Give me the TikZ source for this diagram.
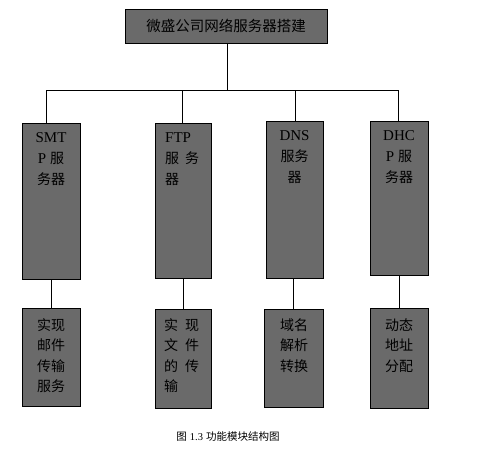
\documentclass[tikz,border=0pt]{standalone}
\usepackage{fontspec}
\setmainfont{Liberation Serif}
\newfontfamily\cjk{Noto Sans CJK SC}
\definecolor{boxgray}{HTML}{6A6A6A}
\tikzset{
  box/.style={draw=black, line width=0.9pt, fill=boxgray, inner sep=0pt},
  link/.style={draw=black, line width=0.8pt},
  btxt/.style={inner sep=0pt, font=\fontsize{15}{21}\selectfont, text=black},
  btxtb/.style={inner sep=0pt, font=\fontsize{14}{20.5}\selectfont\cjk, text=black}
}
\begin{document}
\begin{tikzpicture}[x=1pt,y=-1pt]
\useasboundingbox (0,0) rectangle (503,471);
% top box
\node[box, minimum width=202pt, minimum height=34pt] (top) at (226,26) {};
\node[inner sep=0pt, font=\fontsize{14.5}{16}\selectfont\cjk] (toptxt) at (226,26) {微盛公司网络服务器搭建};
% row 1 boxes
\node[box, minimum width=58pt, minimum height=156pt] (s1) at (51,201) {};
\node[box, minimum width=56pt, minimum height=155pt] (s2) at (183,200.5) {};
\node[box, minimum width=57pt, minimum height=157pt] (s3) at (294.5,199.5) {};
\node[box, minimum width=58pt, minimum height=154pt] (s4) at (399,198) {};
% row 2 boxes
\node[box, minimum width=58pt, minimum height=98pt] (f1) at (51,357) {};
\node[box, minimum width=56pt, minimum height=99pt] (f2) at (183,358.5) {};
\node[box, minimum width=59pt, minimum height=98pt] (f3) at (293.5,358) {};
\node[box, minimum width=58pt, minimum height=100pt] (f4) at (399,358) {};
% row 1 texts
\node[btxt, anchor=north, align=center] (t1) at (51,132) {SMT\\P {\cjk\fontsize{14}{21}\selectfont 服}\\{\cjk\fontsize{14}{21}\selectfont 务器}};
\node[btxt, anchor=north west, align=left] (t2) at (165,132) {FTP\\{\cjk\fontsize{14}{21}\selectfont 服\hspace{6pt}务}\\{\cjk\fontsize{14}{21}\selectfont 器}};
\node[btxt, anchor=north, align=center] (t3) at (294.5,130) {DNS\\{\cjk\fontsize{14}{21}\selectfont 服务}\\{\cjk\fontsize{14}{21}\selectfont 器}};
\node[btxt, anchor=north, align=center] (t4) at (399,130) {DHC\\P {\cjk\fontsize{14}{21}\selectfont 服}\\{\cjk\fontsize{14}{21}\selectfont 务器}};
% row 2 texts
\node[btxtb, anchor=north, align=center] (u1) at (51,318) {实现\\邮件\\传输\\服务};
\node[btxtb, anchor=north west, align=left] (u2) at (164,318) {实\hspace{7pt}现\\文\hspace{7pt}件\\的\hspace{7pt}传\\输};
\node[btxtb, anchor=north, align=center] (u3) at (294,318) {域名\\解析\\转换};
\node[btxtb, anchor=north, align=center] (u4) at (399,318) {动态\\地址\\分配};
% bus
\coordinate (busL) at (46.5,90);
\coordinate (busR) at (398,90);
\coordinate (busT) at (227,90);
\coordinate (b1) at (46.5,90);
\coordinate (b2) at (182,90);
\coordinate (b3) at (295,90);
\coordinate (b4) at (398,90);
\draw[link] (top.south -| busT) -- (busT);
\draw[link] (busL) -- (busR);
\draw[link] (b1) -- (b1 |- s1.north);
\draw[link] (b2) -- (b2 |- s2.north);
\draw[link] (b3) -- (b3 |- s3.north);
\draw[link] (b4) -- (b4 |- s4.north);
% row1 to row2
\coordinate (c1) at (51,0);
\coordinate (c2) at (183,0);
\coordinate (c3) at (293,0);
\coordinate (c4) at (399,0);
\draw[link] (c1 |- s1.south) -- (c1 |- f1.north);
\draw[link] (c2 |- s2.south) -- (c2 |- f2.north);
\draw[link] (c3 |- s3.south) -- (c3 |- f3.north);
\draw[link] (c4 |- s4.south) -- (c4 |- f4.north);
% caption
\node[inner sep=0pt, font=\fontsize{10.5}{12}\selectfont\cjk] (cap) at (228,437) {图\hspace{3pt}{\rmfamily 1.3}\hspace{3pt}功能模块结构图};
\end{tikzpicture}
\end{document}
